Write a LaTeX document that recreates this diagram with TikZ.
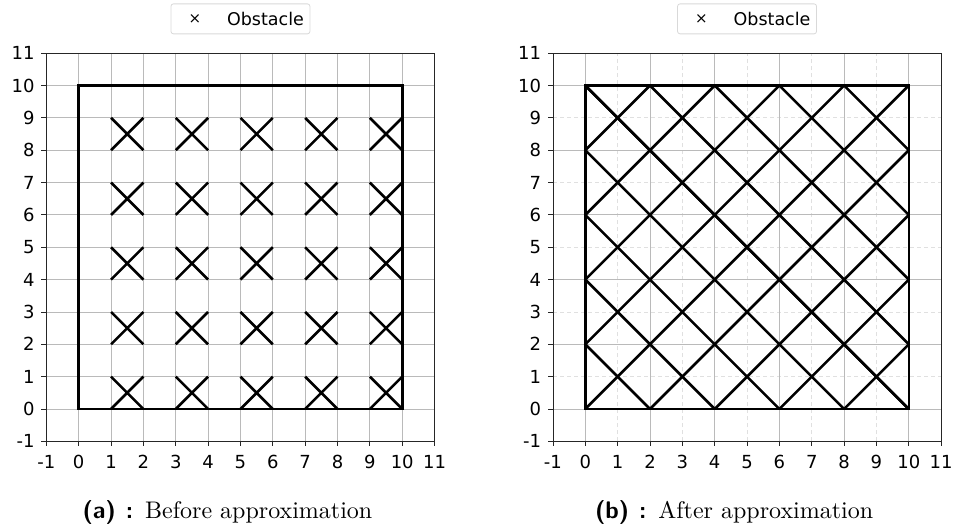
\documentclass[tikz,border=0pt]{standalone}
\usepackage{fontspec}
\newfontfamily\plotfont{DejaVu Sans}
\newfontfamily\capfont{lmroman10-regular.otf}
\newfontfamily\caplabelfont{lmsans10-bold.otf}
\usepackage{tikz}
\usetikzlibrary{positioning}

\begin{document}
\begin{tikzpicture}[
  x=32.35pt, y=32.35pt,
  every node/.style={inner sep=0pt},
  tick label/.style={font=\plotfont\fontsize{18}{18}\selectfont},
  key label/.style={font=\plotfont\fontsize{17.5}{17.5}\selectfont},
  key mark/.style={font=\plotfont\fontsize{15}{15}\selectfont},
  key frame/.style={draw=black!15, line width=0.8pt, rounded corners=2.5pt, fill=white, minimum width=139pt, minimum height=30pt},
  caption/.style={font=\capfont\fontsize{24}{29}\selectfont, anchor=base},
  major grid/.style={black!27, line width=0.8pt},
  minor grid/.style={black!12, line width=0.8pt, dash pattern=on 4pt off 3pt},
  spine/.style={black!85, line width=0.9pt},
  wall/.style={black, line width=2.6pt}
]
\newcommand{\sublabel}[1]{{\caplabelfont(#1)\hspace{10pt}:}\hspace{12pt}}
\useasboundingbox (0pt,0pt) rectangle (959pt,531pt);
% ---- (a) before approximation ----
\begin{scope}[shift={(78.7pt,122pt)}]
  \foreach \i in {0,...,10} {
    \draw[major grid] (\i,-1) -- (\i,11);
    \draw[major grid] (-1,\i) -- (11,\i);
  }
  \draw[spine] (-1,-1) rectangle (11,11);
  \foreach \i in {-1,...,11} {
    \draw[spine] (\i,-1) -- ++(0,-5pt);
    \draw[spine] (-1,\i) -- ++(-5pt,0);
    \node[tick label] (xa\i) at (\i,-1.63) {\i};
    \node[tick label, anchor=east] (ya\i) at (-1.36,\i) {\i};
  }
  \draw[wall] (0,0) rectangle (10,10);
  \foreach \x in {1,3,...,9}
    \foreach \y in {0,2,...,8}
      \draw[wall] (\x,\y) -- (\x+1,\y+1) (\x,\y+1) -- (\x+1,\y);
  \node[key frame] (keya) at (5,12.06) {};
  \node[key mark] (marka) at ([xshift=24.3pt]keya.west) {×};
  \node[key label, anchor=west] (obsa) at ([xshift=56.3pt]keya.west) {Obstacle};
  \node[caption] (capa) at (4.6,-3.40) {\sublabel{a}Before approximation};
\end{scope}
% ---- (b) after approximation ----
\begin{scope}[shift={(585.3pt,122pt)}]
  \foreach \i in {1,3,...,9} {
    \draw[minor grid] (\i,-1) -- (\i,11);
    \draw[minor grid] (-1,\i) -- (11,\i);
  }
  \foreach \i in {0,2,...,10} {
    \draw[major grid] (\i,-1) -- (\i,11);
    \draw[major grid] (-1,\i) -- (11,\i);
  }
  \draw[spine] (-1,-1) rectangle (11,11);
  \foreach \i in {-1,...,11} {
    \draw[spine] (\i,-1) -- ++(0,-5pt);
    \draw[spine] (-1,\i) -- ++(-5pt,0);
    \node[tick label] (xb\i) at (\i,-1.63) {\i};
    \node[tick label, anchor=east] (yb\i) at (-1.36,\i) {\i};
  }
  \foreach \c in {0,2,...,8} {
    \draw[wall] (0,\c) -- (10-\c,10);
    \draw[wall] (10-\c,0) -- (10,\c);
  }
  \foreach \c in {2,4,...,10} {
    \draw[wall] (0,\c) -- (\c,0);
    \draw[wall] (10-\c,10) -- (10,10-\c);
  }
  \draw[wall] (0,0) rectangle (10,10);
  \node[key frame] (keyb) at (5,12.06) {};
  \node[key mark] (markb) at ([xshift=24.3pt]keyb.west) {×};
  \node[key label, anchor=west] (obsb) at ([xshift=56.3pt]keyb.west) {Obstacle};
  \node[caption] (capb) at (4.6,-3.40) {\sublabel{b}After approximation};
\end{scope}
\end{tikzpicture}
\end{document}
